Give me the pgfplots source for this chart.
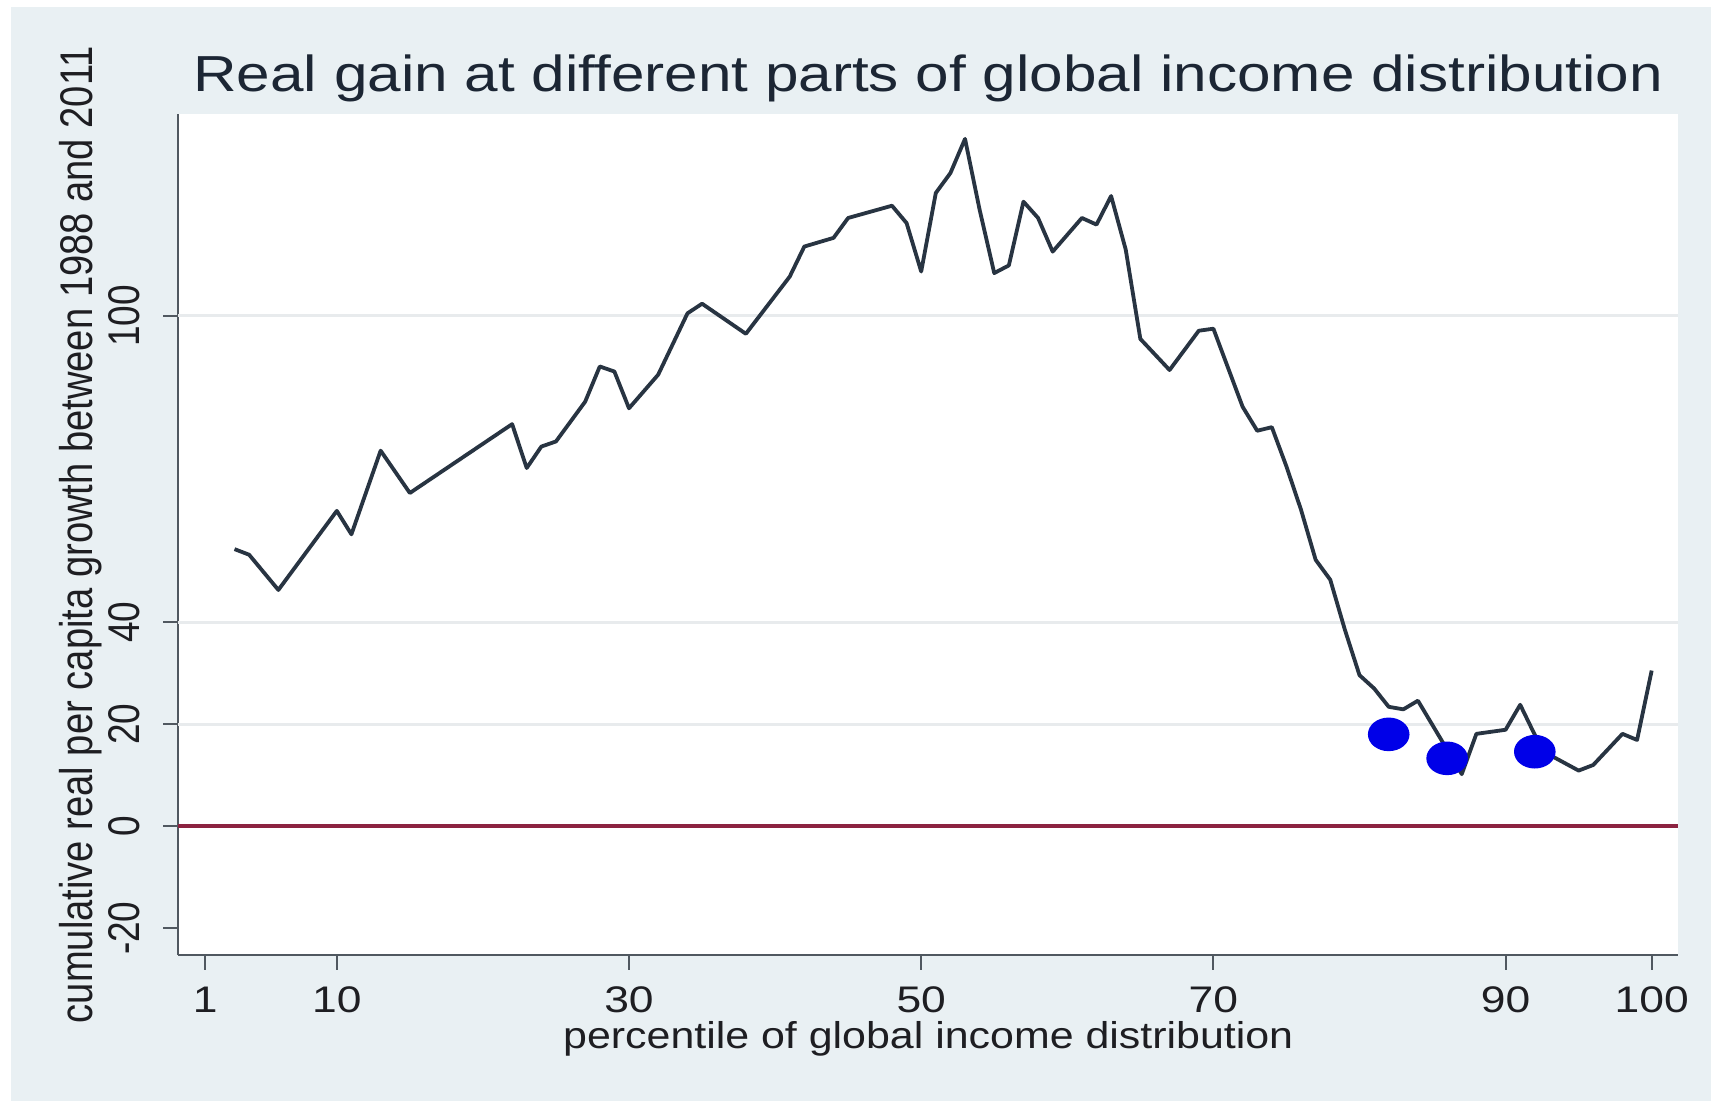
\documentclass[border=0pt]{standalone}
\usepackage{fontspec}
\usepackage{pgfplots}
\pgfplotsset{compat=1.18}
\setmainfont{Liberation Sans}
\newfontfamily\titlefont[FakeStretch=1.19]{Liberation Sans}
\newfontfamily\hfont[FakeStretch=1.2]{Liberation Sans}
\newfontfamily\xlfont[FakeStretch=1.15]{Liberation Sans}
\newfontfamily\vfont[FakeStretch=0.833]{Liberation Sans}
\definecolor{bgc}{RGB}{233,240,243}
\definecolor{axisc}{RGB}{80,88,96}
\definecolor{gridc}{RGB}{232,235,237}
\definecolor{linec}{RGB}{40,52,66}
\definecolor{zeroc}{RGB}{140,35,65}
\definecolor{dotc}{RGB}{0,0,232}
\definecolor{titlec}{RGB}{28,38,52}
\definecolor{textc}{RGB}{30,30,34}
\begin{document}
\begin{tikzpicture}
\fill[bgc] (0pt,0pt) rectangle (427.75pt,275.25pt);
\fill[white] (0pt,0pt) rectangle (2.75pt,275.25pt);
\fill[white] (0pt,273.5pt) rectangle (427.75pt,275.25pt);
\begin{axis}[
  at={(44.5pt,36.55pt)}, anchor=south west,
  width=375.1pt, height=210.1pt, scale only axis,
  xmin=-0.87, xmax=101.83, ymin=-25.2, ymax=139.5,
  axis x line*=bottom, axis y line*=left,
  axis line style={draw=axisc, line width=0.5pt},
  axis background/.style={fill=white},
  tick align=outside, major tick length=3.75pt,
  tick style={draw=axisc, line width=0.5pt},
  xtick={1,10,30,50,70,90,100},
  ytick={-20,0,20,40,100},
  /pgf/number format/assume math mode=true,
  xticklabel style={font=\hfont\fontsize{9.25}{11}\selectfont, text=textc, anchor=north, yshift=-0.7pt},
  yticklabel style={xshift=-2.2pt, rotate=90, anchor=south, font=\vfont\fontsize{11.1}{13}\selectfont, text=textc},
  title={Real gain at different parts of global income distribution},
  title style={at={(axis description cs:0.5,0.9985)}, anchor=base, font=\titlefont\fontsize{12.66}{15}\selectfont, text=titlec},
  xlabel={percentile of global income distribution},
  xlabel style={at={(axis description cs:0.5,-0.1119)}, anchor=base, font=\xlfont\fontsize{9.33}{11}\selectfont, text=textc},
  ylabel={cumulative real per capita growth between 1988 and 2011},
  ylabel style={at={(axis description cs:-0.057,0.5)}, anchor=base, font=\vfont\fontsize{11.45}{13}\selectfont, text=textc},
]
\addplot[gridc, line width=0.75pt] coordinates {(-0.87,20) (101.83,20)};
\addplot[gridc, line width=0.75pt] coordinates {(-0.87,40) (101.83,40)};
\addplot[gridc, line width=0.75pt] coordinates {(-0.87,100) (101.83,100)};
\addplot[zeroc, line width=0.95pt] coordinates {(-0.87,0) (101.83,0)};
\addplot[linec, line width=0.95pt, line join=round] coordinates {
(3,54.3) (4,53.2) (6,46.3) (10,61.8) (11,57.2) (13,73.6) (15,65.3) (22,78.8)
(23,70.2) (24,74.4) (25,75.4) (27,83.2) (28,90.1) (29,89.1) (30,81.9) (32,88.5)
(34,100.5) (35,102.4) (38,96.5) (41,107.7) (42,113.6) (44,115.3) (45,119.2)
(48,121.6) (49,118.2) (50,108.7) (51,124.1) (52,128) (53,134.7) (54,120.8)
(55,108.4) (56,109.9) (57,122.4) (58,119.2) (59,112.6) (61,119.2) (62,117.9)
(63,123.5) (64,113.0) (65,95.5) (67,89.4) (69,97.1) (70,97.5) (72,82.2)
(73,77.5) (74,78.2) (75,70.5) (76,62.0) (77,52.2) (78,48.3) (79,38.5)
(80,29.6) (81,27.0) (82,23.4) (83,22.9) (84,24.6) (87,10.2) (88,18.1)
(90,18.9) (91,23.8) (92,17.9) (93,14.0) (95,10.9) (96,12.0) (98,18.1)
(99,16.9) (100,30.5)
};
\addplot[only marks, mark=*, mark size=4pt, mark options={xscale=1.25, fill=dotc, draw=dotc}] coordinates {(82,18.0) (86,13.3) (92,14.6)};
\end{axis}
\end{tikzpicture}
\end{document}
